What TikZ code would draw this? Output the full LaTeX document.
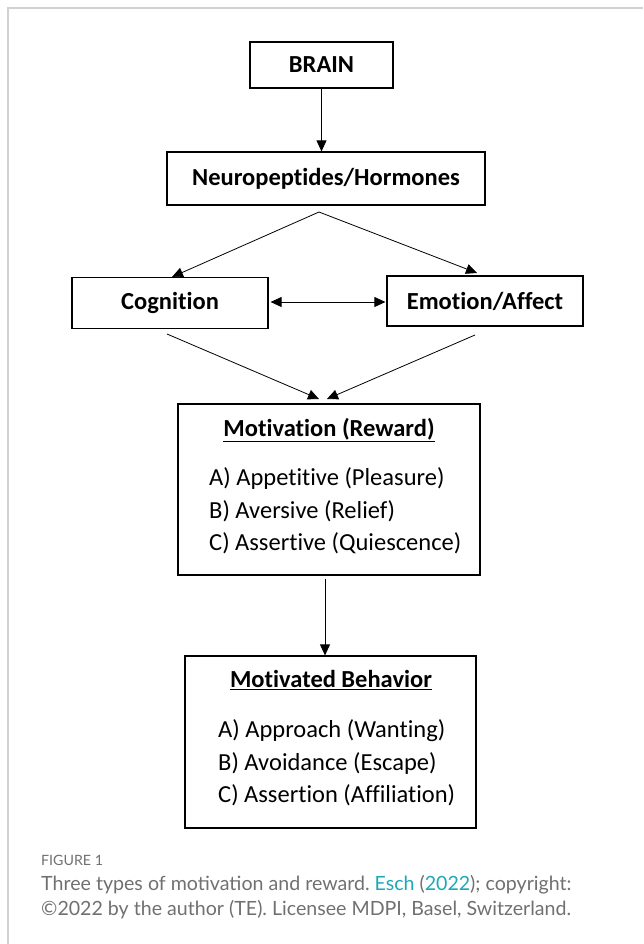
\documentclass[tikz,border=0pt]{standalone}
\usepackage{fontspec}
\setmainfont{Carlito}[Ligatures=NoCommon]
\newfontfamily\capfont{Lato}
\usetikzlibrary{arrows.meta,calc}
\definecolor{framegray}{HTML}{D2D2D2}
\definecolor{capgray}{HTML}{707070}
\definecolor{linkteal}{HTML}{1BA8B8}
\frenchspacing
\begin{document}
\begin{tikzpicture}[x=1pt,y=-1pt,
  box/.style={draw, line width=1.2pt, inner sep=0pt},
  conn/.style={line width=0.8pt, -{Triangle[length=11pt,width=10pt]}},
  dconn/.style={line width=0.8pt, {Triangle[length=11pt,width=10pt]}-{Triangle[length=11pt,width=10pt]}},
  btxt/.style={font=\fontsize{24.5}{28}\selectfont\bfseries, inner sep=0pt},
  itxt/.style={font=\fontsize{24.5}{32.5}\selectfont, inner sep=0pt, align=left, anchor=west},
  captxt/.style={font=\capfont\fontsize{19.6}{25}\selectfont, text=capgray, inner sep=0pt, anchor=west}
]
\useasboundingbox (0,0) rectangle (643,944);
\draw[framegray, line width=1.5pt] (8,944) -- (8,8) -- (643,8);

\node[box, minimum width=143pt, minimum height=46pt, btxt] (brain) at (321.5,65) {BRAIN};
\node[box, minimum width=318pt, minimum height=53pt, btxt] (neuro) at (326,178.5) {Neuropeptides/Hormones};
\node[box, minimum width=196pt, minimum height=51pt, btxt] (cog) at (170,303) {Cognition};
\node[box, minimum width=196pt, minimum height=50pt, btxt] (emo) at (485,301) {Emotion/Affect};
\node[box, minimum width=302pt, minimum height=171pt] (mot) at (329,489.5) {};
\node[box, minimum width=291pt, minimum height=172pt] (beh) at (330.5,742) {};

\node[btxt] (mottitle) at (329,430) {\underline{Motivation (Reward)}};
\node[itxt] (motlist) at (209,511) {A) Appetitive (Pleasure)\\B) Aversive (Relief)\\C) Assertive (Quiescence)};
\node[btxt] (behtitle) at (331,680) {\underline{Motivated Behavior}};
\node[itxt] (behlist) at (218,763) {A) Approach (Wanting)\\B) Avoidance (Escape)\\C) Assertion (Affiliation)};

\coordinate (apex) at (319,212);
\coordinate (cogin) at (172,277);
\coordinate (emoin) at (477,273);
\coordinate (cogout) at (167,334);
\coordinate (emoout) at (475,335);
\coordinate (motinl) at (319,399);
\coordinate (motinr) at (327,399);

\draw[conn] (brain.south) -- (brain.south |- neuro.north);
\draw[conn] (apex) -- (cogin);
\draw[conn] (apex) -- (emoin);
\draw[dconn] ($(cog.east)+(2,-1)$) -- ($(emo.west)+(-1,1)$);
\draw[conn] (cogout) -- (motinl);
\draw[conn] (emoout) -- (motinr);
\draw[conn] ($(mot.south)+(-4,3)$) -- ($(beh.north)+(-5.5,0)$);

\node[captxt, font=\capfont\fontsize{14.2}{17}\selectfont] (figlabel) at (41,860) {FIGURE 1};
\node[captxt] (cap1) at (41,885) {Three types of motivation and reward. \textcolor{linkteal}{Esch} (\textcolor{linkteal}{2022}); copyright:};
\node[captxt] (cap2) at (41,910) {©2022 by the author (TE). Licensee MDPI, Basel, Switzerland.};
\end{tikzpicture}
\end{document}
